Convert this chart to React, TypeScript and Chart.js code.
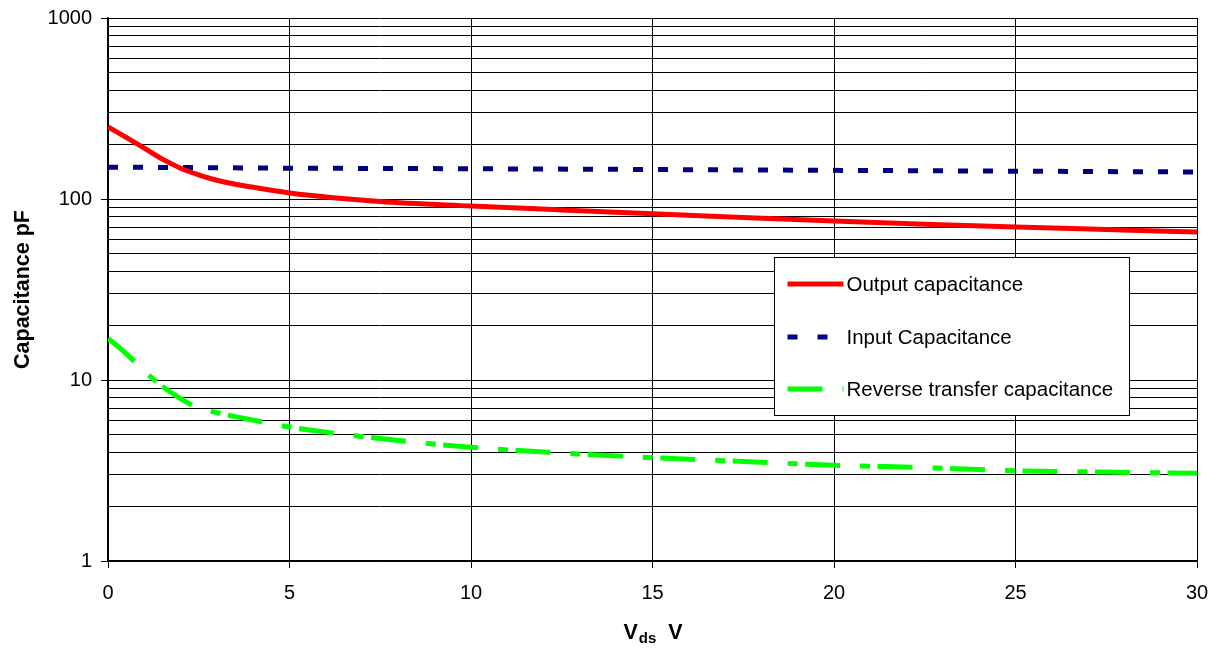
import React, { useEffect, useRef } from "react";
import { Chart, registerables } from "chart.js";

Chart.register(...registerables);

const FONT = "'Liberation Sans', Arial, Helvetica, sans-serif";

// ---- data ----
const vds = [0, 0.5, 1, 1.5, 2, 2.5, 3, 4, 5, 7.5, 10, 12.5, 15, 17.5, 20, 22.5, 25, 27.5, 30];
const outputCap = [250, 219, 191, 166, 148, 136, 127, 116, 108, 97, 91.5, 87, 83, 79, 75.5, 72.5, 70, 67.8, 65.7];
const reverseCap = [17, 14, 11.2, 9.2, 7.9, 7.0, 6.6, 6.0, 5.5, 4.75, 4.25, 3.95, 3.72, 3.55, 3.38, 3.28, 3.15, 3.1, 3.05];
const inputVds = [0, 5, 10, 15, 20, 25, 30];
const inputCap = [150, 148, 147, 145.5, 144, 142.5, 141];

const seriesNames = ["Output capacitance", "Input Capacitance", "Reverse transfer capacitance"];
const xTickValues = [0, 5, 10, 15, 20, 25, 30];
const yMajorTicks = [1, 10, 100, 1000];
const xTitleMain = "V";
const xTitleSub = "ds";
const xTitleUnit = "V";
const yTitle = "Capacitance pF";

const isMajor = (v: number) => yMajorTicks.includes(v);

const overlayPlugin = {
  id: "overlay",
  afterDraw(chart: any) {
    const { ctx, chartArea } = chart;
    const w = chartArea.right - chartArea.left;
    const h = chartArea.bottom - chartArea.top;
    ctx.save();
    // legend box
    const bx = Math.round(chartArea.left + 0.6116 * w) + 0.5;
    const by = Math.round(chartArea.top + 0.4401 * h) + 0.5;
    const bw = Math.round(0.326 * w);
    const bh = Math.round(0.291 * h);
    ctx.fillStyle = "#ffffff";
    ctx.fillRect(bx, by, bw, bh);
    ctx.strokeStyle = "#000000";
    ctx.lineWidth = 1;
    ctx.strokeRect(bx, by, bw, bh);
    const rowsY = [by + 26.5, by + 79.5, by + 131.5];
    chart.data.datasets.forEach((ds: any, i: number) => {
      const y = rowsY[i];
      ctx.beginPath();
      ctx.setLineDash(ds.legendDash || ds.borderDash || []);
      ctx.lineDashOffset = 0;
      ctx.lineWidth = ds.borderWidth;
      ctx.strokeStyle = ds.borderColor;
      ctx.lineCap = "butt";
      ctx.moveTo(bx + 13, y);
      ctx.lineTo(bx + 69, y);
      ctx.stroke();
      ctx.setLineDash([]);
      ctx.fillStyle = "#000000";
      ctx.font = `20.5px ${FONT}`;
      ctx.textBaseline = "middle";
      ctx.textAlign = "left";
      ctx.fillText(ds.label, bx + 72, y + 1);
    });
    // x axis title with subscript
    const cx = (chartArea.left + chartArea.right) / 2;
    const baseY = 639;
    ctx.fillStyle = "#000000";
    ctx.textBaseline = "alphabetic";
    ctx.textAlign = "left";
    const bigFont = `bold 21.5px ${FONT}`;
    const smallFont = `bold 15px ${FONT}`;
    ctx.font = bigFont;
    const w1 = ctx.measureText(xTitleMain).width;
    const w3 = ctx.measureText("  " + xTitleUnit).width;
    ctx.font = smallFont;
    const w2 = ctx.measureText(xTitleSub).width;
    let x = cx - (w1 + w2 + w3) / 2;
    ctx.font = bigFont;
    ctx.fillText(xTitleMain, x, baseY);
    x += w1 + 1;
    ctx.font = smallFont;
    ctx.fillText(xTitleSub, x, baseY + 4);
    x += w2;
    ctx.font = bigFont;
    ctx.fillText("  " + xTitleUnit, x, baseY);
    ctx.restore();
  },
};

export default function App() {
  const canvasRef = useRef<HTMLCanvasElement | null>(null);

  useEffect(() => {
    document.body.style.margin = "0";
    const canvas = canvasRef.current;
    if (!canvas) return;
    const chart = new Chart(canvas, {
      type: "line",
      data: {
        datasets: [
          {
            label: seriesNames[0],
            data: vds.map((v, i) => ({ x: v, y: outputCap[i] })),
            borderColor: "#ff0000",
            backgroundColor: "#ff0000",
            borderWidth: 5,
            borderDash: [],
            pointRadius: 0,
            cubicInterpolationMode: "monotone",
            fill: false,
          },
          {
            label: seriesNames[1],
            data: inputVds.map((v, i) => ({ x: v, y: inputCap[i] })),
            borderColor: "#000080",
            backgroundColor: "#000080",
            borderWidth: 5,
            borderDash: [10, 15],
            legendDash: [10, 20],
            pointRadius: 0,
            tension: 0,
            fill: false,
          } as any,
          {
            label: seriesNames[2],
            data: vds.map((v, i) => ({ x: v, y: reverseCap[i] })),
            borderColor: "#00ff00",
            backgroundColor: "#00ff00",
            borderWidth: 5,
            borderDash: [35, 20, 10, 7.5],
            pointRadius: 0,
            cubicInterpolationMode: "monotone",
            fill: false,
          },
        ],
      },
      options: {
        animation: false,
        responsive: false,
        maintainAspectRatio: false,
        devicePixelRatio: 1,
        layout: { padding: { top: 18, right: 20, left: 0, bottom: 0 } },
        plugins: {
          legend: { display: false },
          tooltip: { enabled: false },
          title: { display: false },
        },
        scales: {
          x: {
            type: "linear",
            min: 0,
            max: 30,
            afterBuildTicks: (scale: any) => {
              scale.ticks = xTickValues.map((v) => ({ value: v }));
            },
            afterFit: (scale: any) => {
              scale.height = 87;
              scale.paddingLeft = 0;
              scale.paddingRight = 0;
            },
            ticks: {
              color: "#000000",
              font: { family: FONT, size: 20 },
              padding: 13,
              maxRotation: 0,
              autoSkip: false,
            },
            grid: {
              color: "#000000",
              lineWidth: 1,
              tickLength: 7,
              tickColor: "#000000",
              drawTicks: true,
            },
            border: { color: "#000000", width: 1.5 },
          },
          y: {
            type: "logarithmic",
            min: 1,
            max: 1000,
            afterBuildTicks: (scale: any) => {
              const t: any[] = [];
              for (let d = 1; d < 1000; d *= 10) {
                for (let k = 1; k < 10; k++) t.push({ value: k * d, major: k === 1 });
              }
              t.push({ value: 1000, major: true });
              scale.ticks = t;
            },
            afterFit: (scale: any) => {
              scale.width = 108;
              scale.paddingTop = 0;
              scale.paddingBottom = 0;
            },
            ticks: {
              color: "#000000",
              font: { family: FONT, size: 20 },
              padding: 9,
              autoSkip: false,
              callback: (value: any) => (isMajor(Number(value)) ? String(value) : ""),
            },
            grid: {
              color: "#000000",
              lineWidth: 1,
              tickLength: 7,
              tickColor: (c: any) => (c.tick && isMajor(c.tick.value) ? "#000000" : "rgba(0,0,0,0)"),
              drawTicks: true,
            },
            border: { color: "#000000", width: 1.5 },
            title: {
              display: true,
              text: yTitle,
              color: "#000000",
              font: { family: FONT, size: 21.5, weight: "bold" },
              padding: { top: 10, bottom: 0 },
            },
          },
        },
      },
      plugins: [overlayPlugin],
    });
    return () => chart.destroy();
  }, []);

  return (
    <div style={{ position: "absolute", left: 0, top: 0, width: 1217, height: 648, background: "#fff" }}>
      <canvas ref={canvasRef} width={1217} height={648} style={{ display: "block", width: 1217, height: 648 }} />
    </div>
  );
}
